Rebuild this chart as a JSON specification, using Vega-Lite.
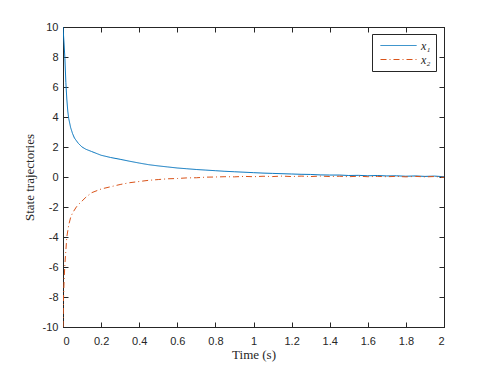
{
  "$schema": "https://vega.github.io/schema/vega-lite/v6.json",
  "autosize": {"type": "none"},
  "width": 381,
  "height": 300,
  "padding": {"left": 63, "top": 27, "right": 47, "bottom": 41},
  "background": "white",
  "config": {
    "view": {"stroke": "#262626", "strokeWidth": 1},
    "axis": {
      "grid": false,
      "domainColor": "#262626",
      "tickColor": "#262626",
      "labelColor": "#262626",
      "titleColor": "#262626",
      "labelFont": "Liberation Sans",
      "labelFontSize": 11,
      "titleFont": "Liberation Serif",
      "titleFontSize": 13,
      "titleFontWeight": "normal",
      "tickSize": -5
    }
  },
  "data": {"values": [
    {"t": 0, "v": 10, "s": "x₁"},
    {"t": 0.005, "v": 9.0, "s": "x₁"},
    {"t": 0.01, "v": 7.9, "s": "x₁"},
    {"t": 0.015, "v": 6.3, "s": "x₁"},
    {"t": 0.02, "v": 5.2, "s": "x₁"},
    {"t": 0.025, "v": 4.4, "s": "x₁"},
    {"t": 0.03, "v": 3.9, "s": "x₁"},
    {"t": 0.04, "v": 3.3, "s": "x₁"},
    {"t": 0.05, "v": 2.9, "s": "x₁"},
    {"t": 0.06, "v": 2.6, "s": "x₁"},
    {"t": 0.08, "v": 2.25, "s": "x₁"},
    {"t": 0.1, "v": 2.0, "s": "x₁"},
    {"t": 0.12, "v": 1.85, "s": "x₁"},
    {"t": 0.15, "v": 1.7, "s": "x₁"},
    {"t": 0.18, "v": 1.55, "s": "x₁"},
    {"t": 0.2, "v": 1.45, "s": "x₁"},
    {"t": 0.25, "v": 1.3, "s": "x₁"},
    {"t": 0.3, "v": 1.18, "s": "x₁"},
    {"t": 0.35, "v": 1.05, "s": "x₁"},
    {"t": 0.4, "v": 0.93, "s": "x₁"},
    {"t": 0.45, "v": 0.82, "s": "x₁"},
    {"t": 0.5, "v": 0.74, "s": "x₁"},
    {"t": 0.55, "v": 0.67, "s": "x₁"},
    {"t": 0.6, "v": 0.6, "s": "x₁"},
    {"t": 0.65, "v": 0.55, "s": "x₁"},
    {"t": 0.7, "v": 0.5, "s": "x₁"},
    {"t": 0.75, "v": 0.46, "s": "x₁"},
    {"t": 0.8, "v": 0.42, "s": "x₁"},
    {"t": 0.85, "v": 0.38, "s": "x₁"},
    {"t": 0.9, "v": 0.35, "s": "x₁"},
    {"t": 0.95, "v": 0.32, "s": "x₁"},
    {"t": 1.0, "v": 0.29, "s": "x₁"},
    {"t": 1.05, "v": 0.26, "s": "x₁"},
    {"t": 1.1, "v": 0.24, "s": "x₁"},
    {"t": 1.15, "v": 0.22, "s": "x₁"},
    {"t": 1.2, "v": 0.2, "s": "x₁"},
    {"t": 1.25, "v": 0.18, "s": "x₁"},
    {"t": 1.3, "v": 0.17, "s": "x₁"},
    {"t": 1.35, "v": 0.14, "s": "x₁"},
    {"t": 1.4, "v": 0.13, "s": "x₁"},
    {"t": 1.45, "v": 0.13, "s": "x₁"},
    {"t": 1.5, "v": 0.1, "s": "x₁"},
    {"t": 1.55, "v": 0.11, "s": "x₁"},
    {"t": 1.6, "v": 0.08, "s": "x₁"},
    {"t": 1.65, "v": 0.1, "s": "x₁"},
    {"t": 1.7, "v": 0.07, "s": "x₁"},
    {"t": 1.75, "v": 0.08, "s": "x₁"},
    {"t": 1.8, "v": 0.05, "s": "x₁"},
    {"t": 1.85, "v": 0.07, "s": "x₁"},
    {"t": 1.9, "v": 0.04, "s": "x₁"},
    {"t": 1.95, "v": 0.06, "s": "x₁"},
    {"t": 2.0, "v": 0.02, "s": "x₁"},
    {"t": 0, "v": -10, "s": "x₂"},
    {"t": 0.003, "v": -8, "s": "x₂"},
    {"t": 0.006, "v": -6.8, "s": "x₂"},
    {"t": 0.01, "v": -5.8, "s": "x₂"},
    {"t": 0.015, "v": -4.9, "s": "x₂"},
    {"t": 0.02, "v": -4.0, "s": "x₂"},
    {"t": 0.03, "v": -3.2, "s": "x₂"},
    {"t": 0.04, "v": -2.7, "s": "x₂"},
    {"t": 0.05, "v": -2.4, "s": "x₂"},
    {"t": 0.06, "v": -2.2, "s": "x₂"},
    {"t": 0.07, "v": -2.0, "s": "x₂"},
    {"t": 0.08, "v": -1.85, "s": "x₂"},
    {"t": 0.1, "v": -1.6, "s": "x₂"},
    {"t": 0.12, "v": -1.35, "s": "x₂"},
    {"t": 0.15, "v": -1.05, "s": "x₂"},
    {"t": 0.18, "v": -0.9, "s": "x₂"},
    {"t": 0.2, "v": -0.8, "s": "x₂"},
    {"t": 0.25, "v": -0.65, "s": "x₂"},
    {"t": 0.3, "v": -0.5, "s": "x₂"},
    {"t": 0.35, "v": -0.38, "s": "x₂"},
    {"t": 0.4, "v": -0.3, "s": "x₂"},
    {"t": 0.45, "v": -0.22, "s": "x₂"},
    {"t": 0.5, "v": -0.17, "s": "x₂"},
    {"t": 0.55, "v": -0.12, "s": "x₂"},
    {"t": 0.6, "v": -0.1, "s": "x₂"},
    {"t": 0.65, "v": -0.06, "s": "x₂"},
    {"t": 0.7, "v": -0.05, "s": "x₂"},
    {"t": 0.75, "v": -0.01, "s": "x₂"},
    {"t": 0.8, "v": 0.0, "s": "x₂"},
    {"t": 0.85, "v": 0.02, "s": "x₂"},
    {"t": 0.9, "v": 0.01, "s": "x₂"},
    {"t": 0.95, "v": 0.04, "s": "x₂"},
    {"t": 1.0, "v": 0.02, "s": "x₂"},
    {"t": 1.05, "v": 0.05, "s": "x₂"},
    {"t": 1.1, "v": 0.03, "s": "x₂"},
    {"t": 1.15, "v": 0.06, "s": "x₂"},
    {"t": 1.2, "v": 0.03, "s": "x₂"},
    {"t": 1.25, "v": 0.06, "s": "x₂"},
    {"t": 1.3, "v": 0.03, "s": "x₂"},
    {"t": 1.35, "v": 0.06, "s": "x₂"},
    {"t": 1.4, "v": 0.03, "s": "x₂"},
    {"t": 1.45, "v": 0.05, "s": "x₂"},
    {"t": 1.5, "v": 0.02, "s": "x₂"},
    {"t": 1.55, "v": 0.05, "s": "x₂"},
    {"t": 1.6, "v": 0.02, "s": "x₂"},
    {"t": 1.65, "v": 0.04, "s": "x₂"},
    {"t": 1.7, "v": 0.02, "s": "x₂"},
    {"t": 1.75, "v": 0.04, "s": "x₂"},
    {"t": 1.8, "v": 0.01, "s": "x₂"},
    {"t": 1.85, "v": 0.04, "s": "x₂"},
    {"t": 1.9, "v": 0.01, "s": "x₂"},
    {"t": 1.95, "v": 0.03, "s": "x₂"},
    {"t": 2.0, "v": -0.02, "s": "x₂"}
  ]},
  "resolve": {"axis": {"x": "independent", "y": "independent"}},
  "layer": [
    {
      "mark": {"type": "line", "strokeWidth": 1, "clip": true},
      "encoding": {
        "x": {"field": "t", "type": "quantitative", "scale": {"domain": [0, 2], "nice": false, "zero": false},
              "axis": {"values": [0, 0.2, 0.4, 0.6, 0.8, 1, 1.2, 1.4, 1.6, 1.8, 2], "labelExpr": "'' + datum.value", "title": "Time (s)", "labelPadding": 13, "titlePadding": 2}},
        "y": {"field": "v", "type": "quantitative", "scale": {"domain": [-10, 10], "nice": false, "zero": false},
              "axis": {"values": [-10, -8, -6, -4, -2, 0, 2, 4, 6, 8, 10], "labelExpr": "'' + datum.value", "title": "State trajectories", "labelPadding": 10, "titlePadding": 6}},
        "color": {"field": "s", "type": "nominal", "scale": {"domain": ["x₁", "x₂"], "range": ["#0072BD", "#D95319"]},
                  "legend": {"title": null, "orient": "none", "legendX": 309, "legendY": 7, "strokeColor": "#262626", "fillColor": "white", "padding": 5,
                             "symbolType": "M -3 0 L 3 0", "symbolSize": 144, "symbolStrokeWidth": 1, "symbolOffset": 15, "labelOffset": 16,
                             "labelFont": "Liberation Serif", "labelFontStyle": "italic", "labelFontSize": 12, "labelColor": "#262626", "rowPadding": 1}},
        "strokeDash": {"field": "s", "type": "nominal", "scale": {"domain": ["x₁", "x₂"], "range": [[1, 0], [6, 3, 1, 3]]}, "legend": null}
      }
    },
    {
      "mark": {"type": "line", "opacity": 0},
      "encoding": {
        "x": {"field": "t", "type": "quantitative", "axis": {"orient": "top", "values": [0, 0.2, 0.4, 0.6, 0.8, 1, 1.2, 1.4, 1.6, 1.8, 2], "labels": false, "title": null}},
        "y": {"field": "v", "type": "quantitative", "axis": {"orient": "right", "values": [-10, -8, -6, -4, -2, 0, 2, 4, 6, 8, 10], "labels": false, "title": null}},
        "detail": {"field": "s"}
      }
    }
  ]
}
